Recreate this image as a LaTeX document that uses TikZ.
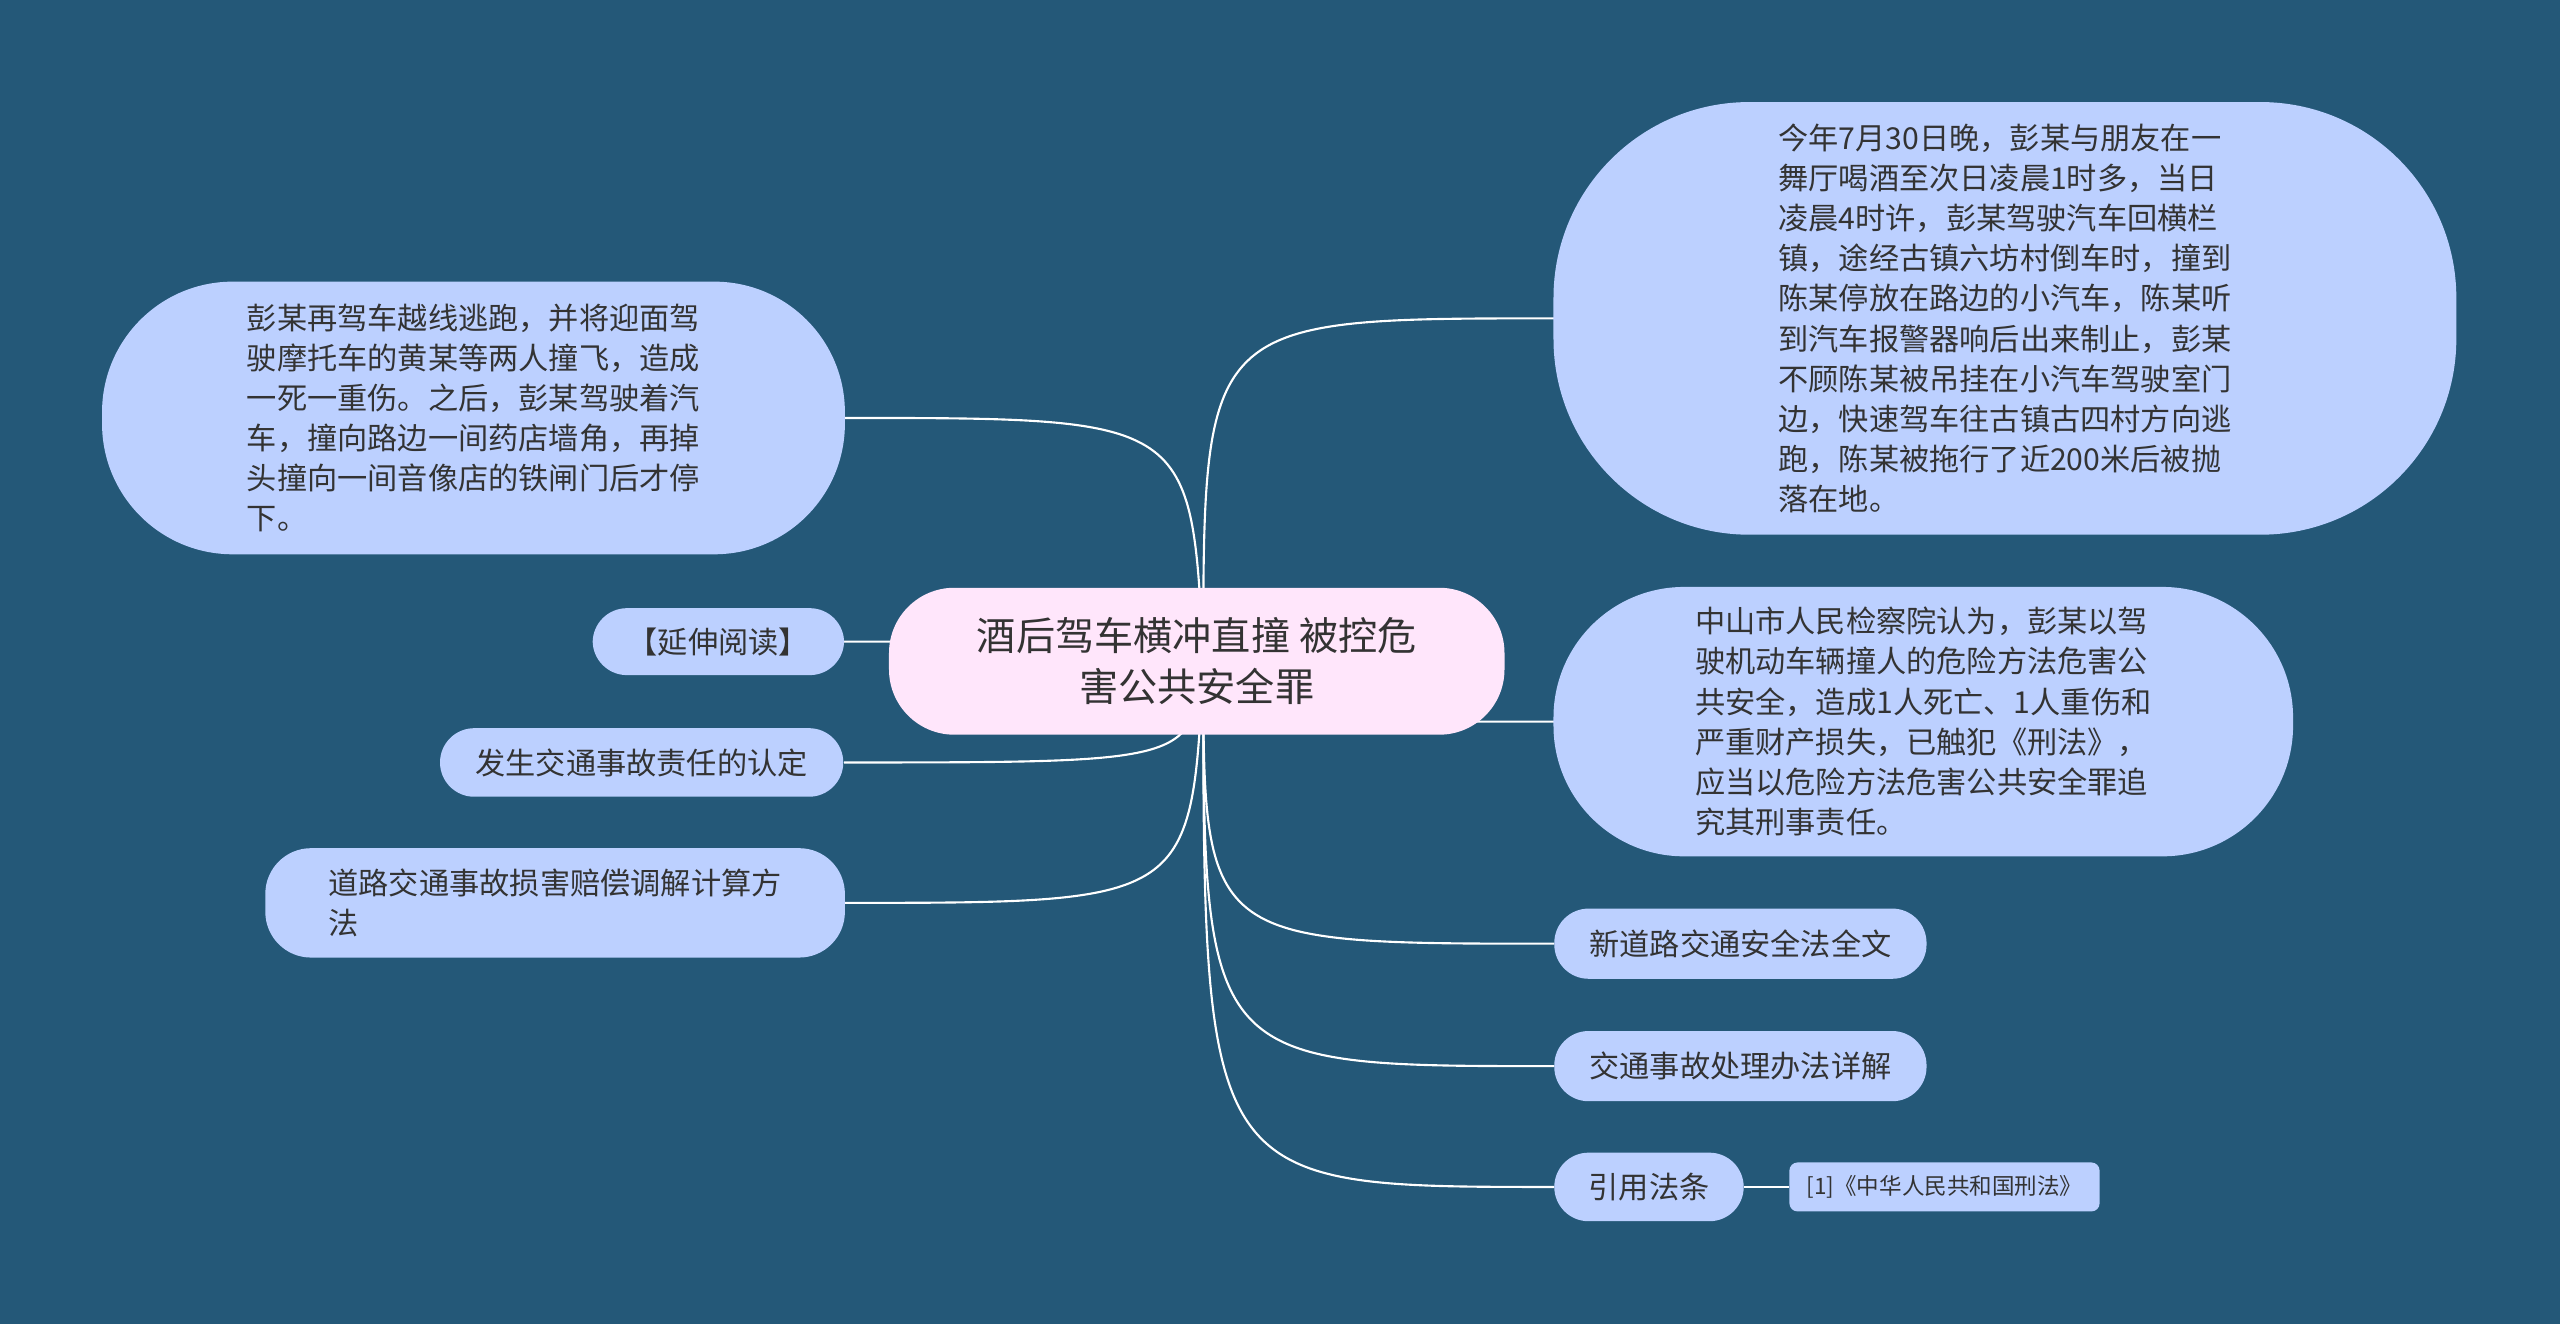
\documentclass[tikz,border=0pt]{standalone}
\usepackage{fontspec}
\setmainfont{Noto Sans CJK SC}
\begin{document}
\begin{tikzpicture}[x=1pt,y=-1pt,
  every node/.style={text=black!80},
  leaf/.style={draw=none,fill=nodeblue,rounded corners=#1,align=left,font=\fontsize{18.5}{24.6}\selectfont,inner sep=0pt},
  leaf/.default=21pt,
  link/.style={draw=white,line width=1.3pt}]
\definecolor{bg}{HTML}{245878}
\definecolor{nodeblue}{HTML}{BCD0FF}
\definecolor{pink}{HTML}{FFE6FB}
\fill[bg] (0,0) rectangle (1568,811);
\useasboundingbox (0,0) rectangle (1568,811);
% connectors
\coordinate (o) at (737,405);
\coordinate (a1) at (952,195);
\coordinate (a2) at (952,442);
\coordinate (a3) at (952,578);
\coordinate (a4) at (952,653);
\coordinate (a5) at (952,727);
\coordinate (b1) at (517,256);
\coordinate (b2) at (517,393);
\coordinate (b3) at (517,467);
\coordinate (b4) at (517,553);
\draw[link] (o) .. controls (737,195) .. (a1);
\draw[link] (o) .. controls (737,442) .. (a2);
\draw[link] (o) .. controls (737,578) .. (a3);
\draw[link] (o) .. controls (737,653) .. (a4);
\draw[link] (o) .. controls (737,727) .. (a5);
\draw[link] (o) .. controls (730,256) .. (b1);
\draw[link] (o) .. controls (730,393) .. (b2);
\draw[link] (o) .. controls (730,467) .. (b3);
\draw[link] (o) .. controls (730,553) .. (b4);
% center
\node[fill=pink,rounded corners=40pt,minimum width=377pt,minimum height=90pt,align=center,font=\fontsize{24}{31}\selectfont,inner sep=0pt] (c) at (733,405) {酒后驾车横冲直撞 被控危\\害公共安全罪};
% right
\node[leaf=120pt,minimum width=553pt,minimum height=265pt] (r1) at (1228,195) {今年7月30日晚，彭某与朋友在一\\舞厅喝酒至次日凌晨1时多，当日\\凌晨4时许，彭某驾驶汽车回横栏\\镇，途经古镇六坊村倒车时，撞到\\陈某停放在路边的小汽车，陈某听\\到汽车报警器响后出来制止，彭某\\不顾陈某被吊挂在小汽车驾驶室门\\边，快速驾车往古镇古四村方向逃\\跑，陈某被拖行了近200米后被抛\\落在地。};
\node[leaf=80pt,minimum width=453pt,minimum height=165pt] (r2) at (1178,442) {中山市人民检察院认为，彭某以驾\\驶机动车辆撞人的危险方法危害公\\共安全，造成1人死亡、1人重伤和\\严重财产损失，已触犯《刑法》，\\应当以危险方法危害公共安全罪追\\究其刑事责任。};
\node[leaf,minimum width=228pt,minimum height=43pt] (r3) at (1066,578) {新道路交通安全法全文};
\node[leaf,minimum width=228pt,minimum height=43pt] (r4) at (1066,653) {交通事故处理办法详解};
\node[leaf,minimum width=116pt,minimum height=42pt] (r5) at (1010,727) {引用法条};
\node[leaf=5pt,minimum width=190pt,minimum height=30pt,font=\fontsize{13.8}{16}\selectfont] (r6) at (1191,727) {[1]《中华人民共和国刑法》};
\draw[link] (r5.east) -- (r6.west);
% left
\node[leaf=80pt,minimum width=455pt,minimum height=167pt] (l1) at (290,256) {彭某再驾车越线逃跑，并将迎面驾\\驶摩托车的黄某等两人撞飞，造成\\一死一重伤。之后，彭某驾驶着汽\\车，撞向路边一间药店墙角，再掉\\头撞向一间音像店的铁闸门后才停\\下。};
\node[leaf,minimum width=154pt,minimum height=41pt] (l2) at (440,393) {【延伸阅读】};
\node[leaf,minimum width=247pt,minimum height=42pt] (l3) at (393,467) {发生交通事故责任的认定};
\node[leaf=28pt,minimum width=355pt,minimum height=67pt] (l4) at (340,553) {道路交通事故损害赔偿调解计算方\\法};
\end{tikzpicture}
\end{document}
